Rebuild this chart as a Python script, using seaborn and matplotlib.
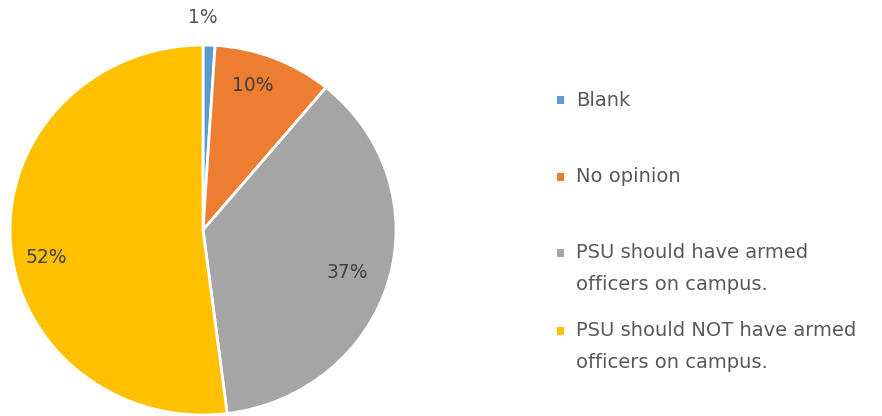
import matplotlib
matplotlib.use("Agg")
import matplotlib.pyplot as plt
import seaborn as sns
from matplotlib.patches import Rectangle

# Survey responses on armed campus officers
categories = [
    "Blank",
    "No opinion",
    "PSU should have armed\nofficers on campus.",
    "PSU should NOT have armed\nofficers on campus.",
]
shares = [1, 10, 37, 52]
colors = ["#5B9BD5", "#ED7D31", "#A5A5A5", "#FFC000"]

sns.set_theme(style="white")
plt.rcParams["font.family"] = ["DejaVu Sans"]

W, H = 882, 416
fig = plt.figure(figsize=(W / 100, H / 100), dpi=100)

# Pie area (pixel box of the ellipse)
left, right, top, bottom = 10, 396, 45, 415
ax = fig.add_axes([left / W, 1 - bottom / H, (right - left) / W, (bottom - top) / H])

palette = sns.color_palette(colors)
wedges, texts, autotexts = ax.pie(
    shares,
    colors=palette,
    startangle=90,
    counterclock=False,
    autopct="%1.0f%%",
    pctdistance=0.8,
    wedgeprops=dict(edgecolor="white", linewidth=2),
    textprops=dict(color="#404040", fontsize=13.5),
)
ax.set_aspect("auto")
ax.set_xlim(-1, 1)
ax.set_ylim(-1, 1)
ax.axis("off")

# Small first slice gets its label above the pie
autotexts[0].set_position((0.0, 1.15))
autotexts[0].set_color("#595959")
autotexts[1].set_position((0.26, 0.78))
autotexts[2].set_position((0.75, -0.23))
autotexts[3].set_position((-0.81, -0.15))

# Legend entries, aligned on their first line
legend_y = [100, 177, 253, 331]
for name, col, y in zip(categories, colors, legend_y):
    fig.add_artist(Rectangle((557 / W, 1 - (y + 4) / H), 7 / W, 8 / H,
                             transform=fig.transFigure, facecolor=col,
                             edgecolor="none"))
    for i, line in enumerate(name.split("\n")):
        fig.text(576 / W, 1 - (y + i * 31) / H, line, ha="left", va="center",
                 fontsize=14, color="#595959")

fig.savefig("out.png", dpi=100, facecolor="white")
